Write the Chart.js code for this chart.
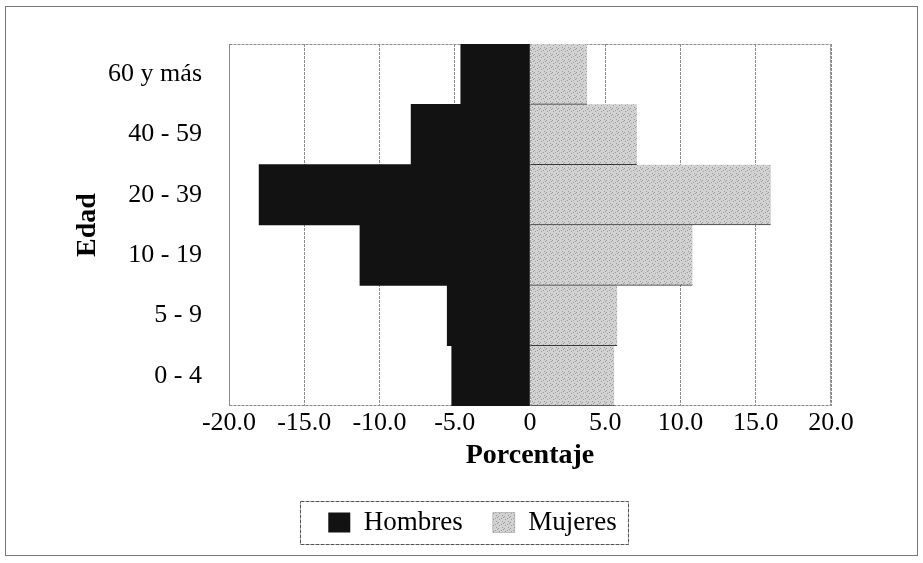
<!DOCTYPE html>
<html>
<head>
<meta charset="utf-8">
<script src="https://cdn.jsdelivr.net/npm/chart.js@4.4.0/dist/chart.umd.min.js"></script>
<style>
  html, body { margin: 0; padding: 0; background: #fff; }
  #wrap { width: 923px; height: 563px; }
</style>
</head>
<body>
<div id="wrap"><canvas id="pyramid" width="923" height="563"></canvas></div>
<script>
// age groups, youngest first (axis is reversed so 60+ sits on top)
const ageGroups = ['0 - 4', '5 - 9', '10 - 19', '20 - 39', '40 - 59', '60 y más'];
const hombres = [5.2, 5.5, 11.3, 18.0, 7.9, 4.6];   // % (drawn to the left)
const mujeres = [5.6, 5.8, 10.8, 16.0, 7.1, 3.8];   // %
const xTicks = [-20, -15, -10, -5, 0, 5, 10, 15, 20];

const serif = "'Liberation Serif', 'DejaVu Serif', serif";

// light stippled grey like the printed original
function stipple() {
  const c = document.createElement('canvas');
  c.width = 6; c.height = 6;
  const g = c.getContext('2d');
  g.fillStyle = '#d2d2d2';
  g.fillRect(0, 0, 6, 6);
  g.fillStyle = '#9a9a9a';
  for (let y = 0; y < 6; y++) {
    for (let x = 0; x < 6; x++) {
      if ((x * 5 + y * 3) % 7 === 0) g.fillRect(x, y, 1, 1);
    }
  }
  return g.createPattern(c, 'repeat');
}
const mujeresFill = stipple();

// frame round the whole figure + plot border + legend box
const framePlugin = {
  id: 'frame',
  afterUpdate(chart) {
    // centre the legend under the figure rather than the full canvas
    const lg = chart.legend;
    const dx = (114 - lg.left) / 2;
    lg.left = 114;
    lg.width = lg.right - lg.left;
    lg.legendHitBoxes.forEach(h => { h.left += dx; });
  },
  beforeDatasetsDraw(chart) {
    const { ctx, chartArea: a } = chart;
    ctx.save();
    ctx.strokeStyle = '#8a8a8a';
    ctx.lineWidth = 1;
    ctx.setLineDash([3, 1]);
    ctx.strokeRect(a.left + 0.5, a.top + 0.5, a.width - 1, a.height - 1);
    ctx.restore();
  },
  afterDraw(chart) {
    const { ctx } = chart;
    ctx.save();
    ctx.strokeStyle = '#777';
    ctx.lineWidth = 1;
    ctx.strokeRect(5.5, 6.5, 912, 549);
    const boxes = chart.legend.legendHitBoxes;
    if (boxes && boxes.length) {
      let l = Infinity, r = -Infinity, t = Infinity, b = -Infinity;
      boxes.forEach(h => {
        l = Math.min(l, h.left); r = Math.max(r, h.left + h.width);
        t = Math.min(t, h.top); b = Math.max(b, h.top + h.height);
      });
      ctx.setLineDash([4, 1]);
      ctx.strokeStyle = '#555';
      ctx.strokeRect(Math.round(l - 28) + 0.5, Math.round(t - 8) + 0.5,
                     Math.round(r - l + 40), Math.round(b - t + 16));
    }
    ctx.restore();
  }
};

new Chart(document.getElementById('pyramid'), {
  type: 'bar',
  data: {
    labels: ageGroups,
    datasets: [
      {
        label: 'Hombres',
        data: hombres.map(v => -v),
        backgroundColor: '#121212',
        borderColor: '#121212',
        borderWidth: 0
      },
      {
        label: 'Mujeres',
        data: mujeres,
        backgroundColor: mujeresFill,
        borderColor: '#3a3a3a',
        borderWidth: { top: 0, left: 0, right: 0, bottom: 1 },
        borderSkipped: false
      }
    ]
  },
  options: {
    indexAxis: 'y',
    responsive: false,
    animation: false,
    devicePixelRatio: 1,
    layout: { padding: { left: 0, right: 92, top: 44, bottom: 17 } },
    datasets: { bar: { barPercentage: 1, categoryPercentage: 1 } },
    scales: {
      x: {
        stacked: true,
        min: -20, max: 20,
        afterBuildTicks(scale) { scale.ticks = xTicks.map(v => ({ value: v })); },
        afterFit(scale) { scale.height = 73; },
        grid: { color: '#8c8c8c', lineWidth: 1, drawTicks: false, tickLength: 0 },
        border: { display: false, dash: [3, 1] },
        ticks: {
          padding: 2,
          color: '#000',
          font: { family: serif, size: 26 },
          callback: v => (v === 0 ? '0' : v.toFixed(1))
        },
        title: {
          display: true,
          text: 'Porcentaje',
          color: '#000',
          font: { family: serif, size: 28, weight: 'bold' },
          padding: { top: 0, bottom: 6 }
        }
      },
      y: {
        stacked: true,
        reverse: true,
        afterFit(scale) { scale.width = 229; },
        grid: { display: false, drawTicks: false },
        border: { display: false },
        ticks: {
          padding: 27,
          color: '#000',
          font: { family: serif, size: 26 }
        },
        title: {
          display: true,
          text: 'Edad',
          color: '#000',
          font: { family: serif, size: 28, weight: 'bold' },
          padding: { top: 71, bottom: 0 }
        }
      }
    },
    plugins: {
      legend: {
        position: 'bottom',
        labels: {
          color: '#000',
          font: { family: serif, size: 27 },
          boxWidth: 22,
          boxHeight: 20,
          padding: 30
        }
      },
      tooltip: { enabled: false }
    }
  },
  plugins: [framePlugin]
});
</script>
</body>
</html>
